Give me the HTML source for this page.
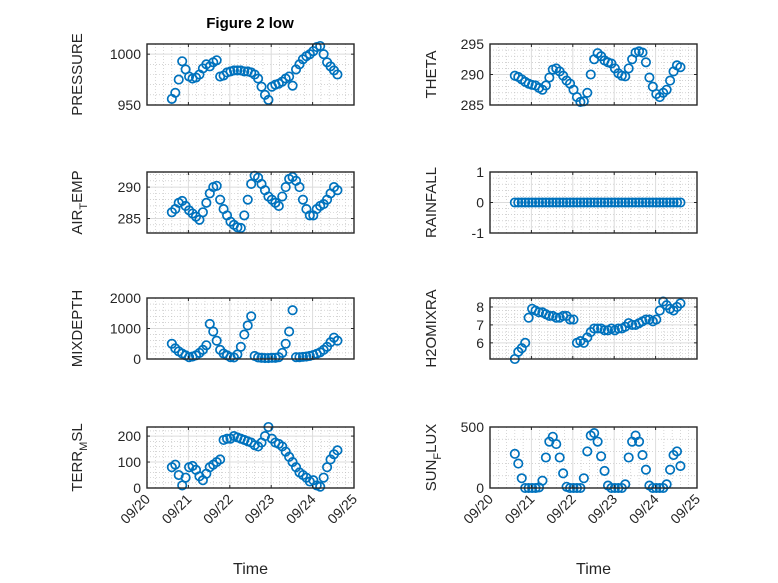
<!DOCTYPE html>
<html><head><meta charset="utf-8"><style>
html,body{margin:0;padding:0;background:#fff}
svg{display:block;font-family:"Liberation Sans","DejaVu Sans",sans-serif}
</style></head><body>
<svg id="fig" width="778" height="583" viewBox="0 0 778 583" xmlns="http://www.w3.org/2000/svg">
<rect width="778" height="583" fill="#fff"/>
<text x="250" y="28" text-anchor="middle" font-size="15" font-weight="bold" fill="#000">Figure 2 low</text>
</svg>
<script>
const t0 = 20.6, dt = 1/12;
const pressure = [956,962,975,993,985,978,976,977,980,986,990,988,992,994,978,979,982,983,984,984,984,983,983,982,980,976,968,960,955,968,970,971,973,976,978,969,985,990,995,998,1000,1003,1007,1008,1000,992,988,984,980];
const theta = [289.8,289.6,289.2,288.8,288.5,288.3,288.2,287.8,287.5,288.2,289.5,290.8,291,290.5,289.8,289,288.5,287.5,286.3,285.5,285.6,287,290,292.5,293.5,293,292.3,292,291.8,291,290.2,289.8,289.7,291,292.5,293.6,293.8,293.6,292,289.5,288,286.8,286.3,287,287.5,289,290.5,291.5,291.2];
const airTemp = [286,286.5,287.5,287.8,287,286.3,285.8,285.3,284.8,286,287.5,289,290,290.2,288,286.5,285.5,284.5,284,283.6,283.5,285.5,288,290.5,291.8,291.5,290.5,289.5,288.5,288,287.5,287,288.5,290,291.3,291.6,291,290,288,286.5,285.5,285.5,286.5,287,287.3,288,289,290,289.5];
const rainfall = [0,0,0,0,0,0,0,0,0,0,0,0,0,0,0,0,0,0,0,0,0,0,0,0,0,0,0,0,0,0,0,0,0,0,0,0,0,0,0,0,0,0,0,0,0,0,0,0,0];
const mixDepth = [500,350,250,180,120,60,80,120,200,300,450,1150,900,600,300,180,120,60,50,150,400,800,1100,1400,100,50,40,30,30,40,40,60,200,500,900,1600,60,60,70,80,100,130,170,220,300,400,550,700,600];
const h2oMix = [5.1,5.5,5.7,6.0,7.4,7.9,7.8,7.7,7.7,7.6,7.5,7.5,7.4,7.4,7.5,7.5,7.3,7.3,6.0,6.1,6.0,6.3,6.6,6.8,6.8,6.8,6.7,6.7,6.8,6.7,6.8,6.8,6.9,7.1,7.0,7.0,7.1,7.2,7.3,7.3,7.2,7.3,7.8,8.3,8.1,7.9,7.8,8.0,8.2];
const terrMsl = [80,90,50,10,40,80,85,70,45,30,55,80,90,100,110,185,190,190,200,195,190,185,180,175,165,160,175,200,235,190,175,170,160,140,120,100,80,60,50,40,25,30,10,5,40,80,110,130,145];
const sunFlux = [280,200,80,0,0,0,0,5,60,250,380,420,360,250,120,10,0,0,0,0,80,300,430,450,380,260,140,20,0,0,0,0,30,250,380,430,380,270,150,20,0,0,0,0,30,150,270,300,180];
const xTickLabels = ["09/20","09/21","09/22","09/23","09/24","09/25"];

const NS = "http://www.w3.org/2000/svg";
const svg = document.getElementById("fig");
function mk(tag, attrs, parent){const e=document.createElementNS(NS,tag);for(const k in attrs)e.setAttribute(k,attrs[k]);(parent||svg).appendChild(e);return e;}
function fmt(v){return (Math.round(v*1000)/1000).toString();}

const panels = [
 {name:"pressure",data:pressure,lab:["PRESSURE"],x:147,y:44,lim:[950,1010],ticks:[950,1000],minor:10,col:0},
 {name:"theta",data:theta,lab:["THETA"],x:490,y:44,lim:[285,295],ticks:[285,290,295],minor:1,col:1},
 {name:"air-temp",data:airTemp,lab:["AIR","T","EMP"],x:147,y:172,lim:[282.7,292.4],ticks:[285,290],minor:1,col:0},
 {name:"rainfall",data:rainfall,lab:["RAINFALL"],x:490,y:172,lim:[-1,1],ticks:[-1,0,1],minor:0.2,col:1},
 {name:"mixdepth",data:mixDepth,lab:["MIXDEPTH"],x:147,y:298,lim:[0,2000],ticks:[0,1000,2000],minor:200,col:0},
 {name:"h2omixra",data:h2oMix,lab:["H2OMIXRA"],x:490,y:298,lim:[5.1,8.5],ticks:[6,7,8],minor:0.2,col:1},
 {name:"terr-msl",data:terrMsl,lab:["TERR","M","SL"],x:147,y:427,lim:[0,235],ticks:[0,100,200],minor:20,col:0,bottom:true},
 {name:"sun-flux",data:sunFlux,lab:["SUN","F","LUX"],x:490,y:427,lim:[0,500],ticks:[0,500],minor:100,col:1,bottom:true}
];
const W=207, H=61, xmin=20, xmax=25;

panels.forEach(p=>{
  const g = mk("g",{});
  
  
  const sx = v => p.x + (v-xmin)/(xmax-xmin)*W;
  const sy = v => p.y + H - (v-p.lim[0])/(p.lim[1]-p.lim[0])*H;
  mk("rect",{x:p.x,y:p.y,width:W,height:H,fill:"#fff"},g);
  for(let d=xmin; d<=xmax+1e-9; d+=0.2){
    if(Math.abs(d-Math.round(d))<1e-6) continue;
    mk("line",{x1:sx(d),x2:sx(d),y1:p.y,y2:p.y+H,stroke:"#bbb","stroke-width":0.6,"stroke-dasharray":"1,2"},g);
  }
  const start = Math.ceil(p.lim[0]/p.minor)*p.minor;
  for(let v=start; v<=p.lim[1]+1e-9; v+=p.minor){
    if(p.ticks.some(t=>Math.abs(t-v)<1e-6)) continue;
    mk("line",{x1:p.x,x2:p.x+W,y1:sy(v),y2:sy(v),stroke:"#bbb","stroke-width":0.6,"stroke-dasharray":"1,2"},g);
  }
  for(let d=xmin; d<=xmax; d++) mk("line",{x1:sx(d),x2:sx(d),y1:p.y,y2:p.y+H,stroke:"#dcdcdc","stroke-width":1},g);
  p.ticks.forEach(v=>mk("line",{x1:p.x,x2:p.x+W,y1:sy(v),y2:sy(v),stroke:"#dcdcdc","stroke-width":1},g));
  p.data.forEach((v,i)=>{
    const c = mk("circle",{cx:sx(t0+i*dt),cy:sy(v),r:4.2,fill:"none",stroke:"#0072BD","stroke-width":1.7},g);
    
    
  });
  mk("rect",{x:p.x,y:p.y,width:W,height:H,fill:"none",stroke:"#262626","stroke-width":1.4},g);
  for(let d=xmin; d<=xmax; d++){
    mk("line",{x1:sx(d),x2:sx(d),y1:p.y+H,y2:p.y+H-3,stroke:"#262626"},g);
    mk("line",{x1:sx(d),x2:sx(d),y1:p.y,y2:p.y+3,stroke:"#262626"},g);
  }
  p.ticks.forEach(v=>{
    mk("line",{x1:p.x,x2:p.x+3,y1:sy(v),y2:sy(v),stroke:"#262626"},g);
    mk("line",{x1:p.x+W,x2:p.x+W-3,y1:sy(v),y2:sy(v),stroke:"#262626"},g);
    const t = mk("text",{x:p.x-6,y:sy(v)+5,"text-anchor":"end","font-size":14,fill:"#262626"},g);
    t.textContent = fmt(v);
    
    
  });
  const lx = p.col===0 ? 82 : 436, ly = p.y + H/2;
  const yl = mk("text",{transform:`translate(${lx},${ly}) rotate(-90)`,"text-anchor":"middle","font-size":15,fill:"#262626"},g);
  
  
  if(p.lab.length===1){ yl.textContent=p.lab[0]; }
  else{
    const a=mk("tspan",{},yl); a.textContent=p.lab[0];
    const b=mk("tspan",{"font-size":11,dy:5},yl); b.textContent=p.lab[1];
    const c=mk("tspan",{dy:-5},yl); c.textContent=p.lab[2];
  }
  if(p.bottom){
    xTickLabels.forEach((s,i)=>{
      const xx=sx(xmin+i), yy=p.y+H+8;
      const t=mk("text",{transform:`translate(${xx+4},${yy+4}) rotate(-45)`,"text-anchor":"end","font-size":14,fill:"#262626"},g);
      t.textContent=s;
      
      
    });
    const xl=mk("text",{x:p.x+W/2,y:574,"text-anchor":"middle","font-size":16,fill:"#262626"},g);
    xl.textContent="Time";
    
    
  }
});
</script>
</body></html>
